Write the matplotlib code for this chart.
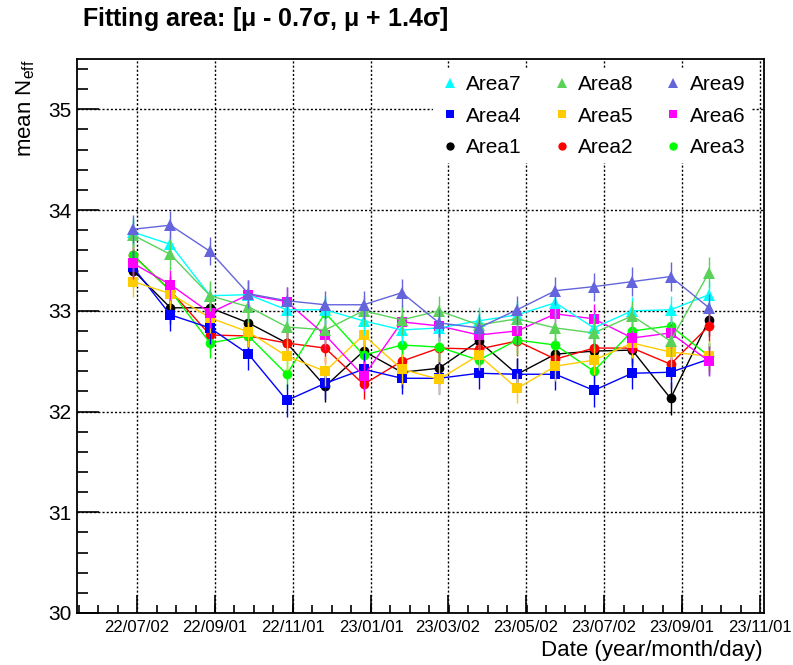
import matplotlib
matplotlib.use('Agg')
import matplotlib.pyplot as plt
import matplotlib.dates as mdates
from matplotlib.lines import Line2D
import numpy as np
from datetime import datetime, timedelta

plt.rcParams['font.family'] = ['Liberation Sans', 'DejaVu Sans']
plt.rcParams['mathtext.fontset'] = 'custom'
plt.rcParams['mathtext.rm'] = 'Liberation Sans'

# measurement dates (one per month)
dates = ['2022-06-29', '2022-07-28', '2022-08-28', '2022-09-27', '2022-10-27',
         '2022-11-26', '2022-12-26', '2023-01-25', '2023-02-23', '2023-03-26',
         '2023-04-25', '2023-05-25', '2023-06-24', '2023-07-24', '2023-08-23',
         '2023-09-22']

# mean N_eff per area
area1 = [33.40, 33.03, 33.03, 32.88, 32.68, 32.25, 32.60, 32.39, 32.43, 32.70,
         32.37, 32.57, 32.60, 32.61, 32.13, 32.91]
area2 = [33.55, 33.20, 32.76, 32.75, 32.68, 32.63, 32.27, 32.50, 32.63, 32.62,
         32.70, 32.52, 32.63, 32.63, 32.47, 32.85]
area3 = [33.55, 33.20, 32.68, 32.75, 32.37, 32.98, 32.56, 32.66, 32.64, 32.51,
         32.71, 32.66, 32.40, 32.80, 32.85, 32.55]
area4 = [33.43, 32.96, 32.83, 32.57, 32.11, 32.28, 32.42, 32.33, 32.33, 32.38,
         32.37, 32.37, 32.21, 32.38, 32.39, 32.52]
area5 = [33.29, 33.17, 32.93, 32.79, 32.55, 32.40, 32.76, 32.42, 32.32, 32.56,
         32.23, 32.45, 32.51, 32.68, 32.59, 32.55]
area6 = [33.47, 33.26, 32.98, 33.16, 33.09, 32.76, 32.35, 32.89, 32.85, 32.76,
         32.80, 32.97, 32.92, 32.73, 32.78, 32.50]
area7 = [33.78, 33.66, 33.15, 33.16, 33.01, 33.01, 32.90, 32.81, 32.83, 32.90,
         32.96, 33.08, 32.83, 33.00, 33.01, 33.16]
area8 = [33.75, 33.56, 33.15, 33.04, 32.84, 32.81, 33.00, 32.91, 33.00, 32.86,
         32.92, 32.83, 32.78, 32.95, 32.70, 33.38]
area9 = [33.81, 33.85, 33.59, 33.17, 33.10, 33.06, 33.06, 33.18, 32.88, 32.83,
         33.01, 33.20, 33.24, 33.29, 33.34, 33.03]

# statistical uncertainty per area
errors = [0.16, 0.15, 0.15, 0.16, 0.15, 0.15, 0.14, 0.15, 0.14]

tick_dates = ['2022-07-02', '2022-09-01', '2022-11-01', '2023-01-01', '2023-03-02',
              '2023-05-02', '2023-07-02', '2023-09-01', '2023-11-01']

labels = ['Area1', 'Area2', 'Area3', 'Area4', 'Area5', 'Area6', 'Area7', 'Area8', 'Area9']
values = [area1, area2, area3, area4, area5, area6, area7, area8, area9]
colors = ['black', '#ff0000', '#00ff00', '#0000ff', '#ffcc00', '#ff00ff',
          '#00ffff', '#5ad25a', '#6464dc']
markers = ['o', 'o', 'o', 's', 's', 's', '^', '^', '^']

x = mdates.date2num([datetime.strptime(d, '%Y-%m-%d') for d in dates])

fig = plt.figure(figsize=(7.93, 6.65), dpi=100)
ax = fig.add_axes([0.0971, 0.0782, 0.8663, 0.8331])

handles = {}
for i, (lab, v, c, m, e) in enumerate(zip(labels, values, colors, markers, errors)):
    ax.errorbar(x, v, yerr=e, color=c, marker=m, ms=7 if m != '^' else 8,
                lw=1.0, elinewidth=1.0, capsize=2.5, capthick=1.0,
                markeredgewidth=0, zorder=3 + i)
    handles[lab] = Line2D([], [], color=c, marker=m, ls='none',
                          ms=6 if m != '^' else 7, markeredgewidth=0)

ax.set_ylim(30, 35.5)
ax.set_xlim(mdates.date2num(datetime(2022, 5, 16)), mdates.date2num(datetime(2023, 11, 4)))

major = mdates.date2num([datetime.strptime(d, '%Y-%m-%d') for d in tick_dates])
ax.set_xticks(major)
ax.set_xticklabels([datetime.strptime(d, '%Y-%m-%d').strftime('%y/%m/%d') for d in tick_dates])
step = (major[-1] - major[0]) / (len(major) - 1) / 4
minor = np.arange(major[0] - 3 * step, ax.get_xlim()[1], step)
ax.set_xticks(minor, minor=True)

ax.set_yticks(np.arange(30, 35.01, 1))
ax.set_yticks(np.arange(30, 35.51, 0.2), minor=True)

ax.tick_params(axis='x', which='major', direction='in', length=13, width=1.2,
               labelsize=12, pad=5, top=False)
ax.tick_params(axis='x', which='minor', direction='in', length=6, width=1.2, top=False)
ax.tick_params(axis='y', which='major', direction='in', length=16, width=1.2,
               labelsize=15, pad=4, right=False)
ax.tick_params(axis='y', which='minor', direction='in', length=8, width=1.2, right=False)

for s in ax.spines.values():
    s.set_linewidth(1.3)

ax.grid(True, which='major', color='black', ls=(0, (1.5, 1.5)), lw=1.0)
ax.set_axisbelow(True)

order = ['Area7', 'Area4', 'Area1', 'Area8', 'Area5', 'Area2', 'Area9', 'Area6', 'Area3']
leg = ax.legend([handles[k] for k in order], order, ncol=3, loc='upper right',
                bbox_to_anchor=(0.9825, 0.982), fontsize=15, frameon=True,
                fancybox=False, edgecolor='none', facecolor='white', framealpha=1,
                handlelength=1.0, handletextpad=0.3, columnspacing=1.4,
                labelspacing=0.6, borderpad=0.3, borderaxespad=0)
leg.set_zorder(20)

fig.text(0.103, 0.972, r'Fitting area: [$\mathregular{\mu}$ - 0.7$\mathregular{\sigma}$, $\mathregular{\mu}$ + 1.4$\mathregular{\sigma}$]',
         fontsize=18, fontweight='bold', ha='left', va='center')
fig.text(0.962, 0.022, 'Date (year/month/day)', fontsize=16, ha='right', va='center')
fig.text(0.032, 0.91, r'mean N$_{\mathregular{eff}}$', fontsize=16, rotation=90,
         ha='center', va='top')

fig.savefig('out.png', dpi=100)
